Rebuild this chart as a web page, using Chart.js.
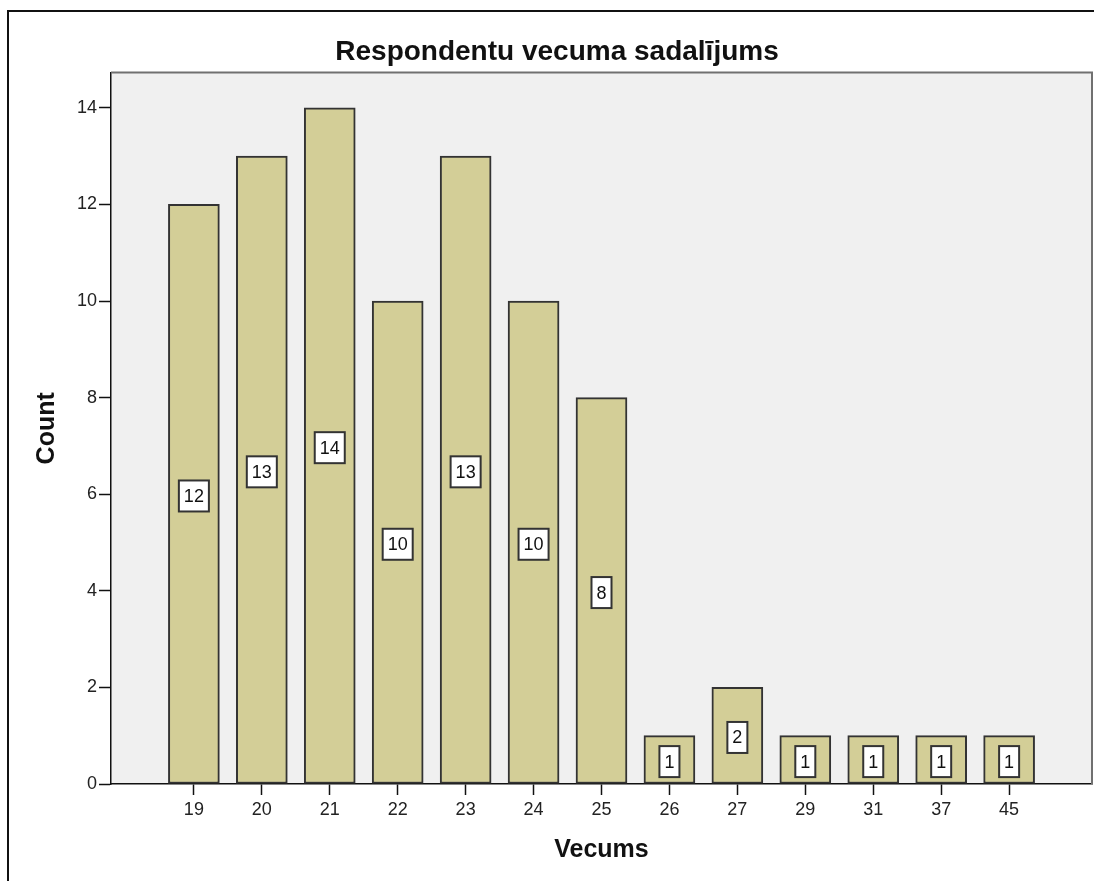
<!DOCTYPE html>
<html>
<head>
<meta charset="utf-8">
<script src="https://cdn.jsdelivr.net/npm/chart.js@4"></script>
<style>
  html, body { margin: 0; padding: 0; background: #fff; overflow: hidden; }
  #frame { position: absolute; left: 7px; top: 10px; width: 1200px; height: 1000px; border: 2px solid #111; }
  #wrap { position: absolute; left: 0; top: 0; width: 1094px; height: 881px; }
</style>
</head>
<body>
<div id="frame"></div>
<div id="wrap"><canvas id="barChart" width="1094" height="881"></canvas></div>
<script>
const ages = ['19', '20', '21', '22', '23', '24', '25', '26', '27', '29', '31', '37', '45'];
const counts = [12, 13, 14, 10, 13, 10, 8, 1, 2, 1, 1, 1, 1];
const yTicks = [0, 2, 4, 6, 8, 10, 12, 14];

const fontName = "'Liberation Sans', Arial, sans-serif";

// gray plot background + gray top/right frame
const plotFrame = {
    id: 'plotFrame',
    beforeDraw(chart) {
        const {ctx, chartArea: a} = chart;
        ctx.save();
        ctx.fillStyle = '#f0f0f0';
        ctx.fillRect(a.left, a.top, a.right - a.left, a.bottom - a.top);
        ctx.restore();
    },
    afterDraw(chart) {
        const {ctx, chartArea: a} = chart;
        ctx.save();
        ctx.strokeStyle = '#707070';
        ctx.lineWidth = 2;
        ctx.beginPath();
        ctx.moveTo(a.left, a.top);
        ctx.lineTo(a.right, a.top);
        ctx.lineTo(a.right, a.bottom);
        ctx.stroke();
        ctx.restore();
    }
};

// white boxed count label in the middle of each bar
const barLabels = {
    id: 'barLabels',
    afterDatasetsDraw(chart) {
        const {ctx} = chart;
        const meta = chart.getDatasetMeta(0);
        ctx.save();
        ctx.font = '18px ' + fontName;
        ctx.textAlign = 'center';
        ctx.textBaseline = 'middle';
        meta.data.forEach((bar, i) => {
            const txt = String(counts[i]);
            const w = ctx.measureText(txt).width + 10;
            const h = 31;
            const cx = bar.x;
            const cy = (bar.y + bar.base) / 2 + 2;
            ctx.fillStyle = '#fff';
            ctx.fillRect(cx - w / 2, cy - h / 2, w, h);
            ctx.strokeStyle = '#333';
            ctx.lineWidth = 2;
            ctx.strokeRect(cx - w / 2, cy - h / 2, w, h);
            ctx.fillStyle = '#111';
            ctx.fillText(txt, cx, cy + 1);
        });
        ctx.restore();
    }
};

new Chart(document.getElementById('barChart'), {
    type: 'bar',
    data: {
        datasets: [{
            label: 'Count',
            data: counts.map((c, i) => ({x: i, y: c})),
            backgroundColor: '#d3ce97',
            borderColor: '#333',
            borderWidth: 2,
            borderSkipped: false,
            barThickness: 51,
        }],
    },
    options: {
        responsive: false,
        animation: false,
        layout: {
            padding: {top: 0, right: 2, bottom: 0, left: 22}
        },
        plugins: {
            legend: {display: false},
            tooltip: {enabled: false},
            title: {
                display: true,
                text: 'Respondentu vecuma sadalījums',
                color: '#111',
                font: {family: fontName, size: 28, weight: 'bold'},
                padding: {top: 35, bottom: 4}
            }
        },
        scales: {
            x: {
                type: 'linear',
                offset: false,
                min: -1.22,
                max: 13.22,
                afterBuildTicks: (scale) => {
                    scale.ticks = ages.map((a, i) => ({value: i}));
                },
                afterFit: (scale) => { scale.height = 97; },
                ticks: {
                    autoSkip: false,
                    maxRotation: 0,
                    color: '#222',
                    padding: 4,
                    font: {family: fontName, size: 18},
                    callback: (v) => ages[v]
                },
                grid: {
                    offset: false,
                    drawOnChartArea: false,
                    drawTicks: true,
                    tickLength: 11,
                    tickColor: '#111',
                    tickWidth: 1.5
                },
                border: {display: true, color: '#111', width: 1.5},
                title: {
                    display: true,
                    text: 'Vecums',
                    color: '#111',
                    font: {family: fontName, size: 25, weight: 'bold'},
                    padding: {top: 0, bottom: 16}
                }
            },
            y: {
                min: 0,
                max: 14.73,
                afterBuildTicks: (scale) => {
                    scale.ticks = yTicks.map(v => ({value: v}));
                },
                afterFit: (scale) => { scale.width = 89; },
                ticks: {
                    color: '#222',
                    padding: 2,
                    font: {family: fontName, size: 18}
                },
                grid: {
                    drawOnChartArea: false,
                    drawTicks: true,
                    tickLength: 12,
                    tickColor: '#111',
                    tickWidth: 1.5
                },
                border: {display: true, color: '#111', width: 1.5},
                title: {
                    display: true,
                    text: 'Count',
                    color: '#111',
                    font: {family: fontName, size: 25, weight: 'bold'},
                    padding: {top: 10, bottom: 0}
                }
            }
        }
    },
    plugins: [plotFrame, barLabels]
});
</script>
</body>
</html>
